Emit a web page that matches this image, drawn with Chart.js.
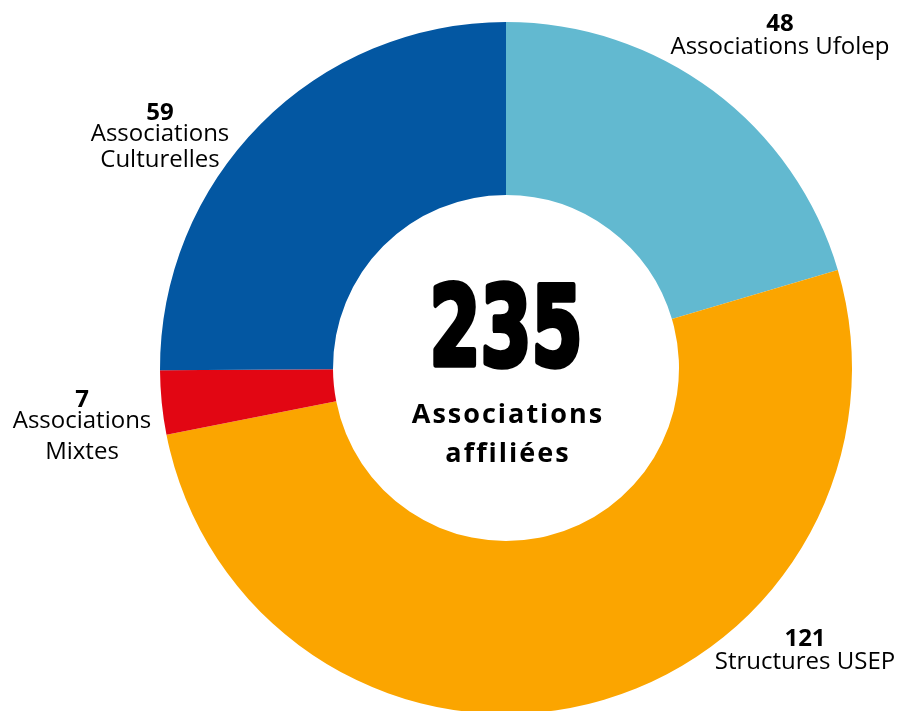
<!DOCTYPE html>
<html>
<head>
<meta charset="utf-8">
<script src="https://cdn.jsdelivr.net/npm/chart.js@4.4.0/dist/chart.umd.min.js"></script>
<style>
    html, body { margin: 0; padding: 0; background: #fff; overflow: hidden; }
    #graficoAssociazioni { display: block; }
</style>
</head>
<body>
<canvas id="graficoAssociazioni" width="897" height="740"></canvas>
<script>
// dati
var categorie = ['Associations Ufolep', 'Structures USEP', 'Associations Mixtes', 'Associations Culturelles'];
var valori = [48, 121, 7, 59];
var colori = ['#62b9d0', '#fba500', '#e20613', '#0357a2'];
var righeEtichette = [['Associations Ufolep'], ['Structures USEP'], ['Associations', 'Mixtes'], ['Associations', 'Culturelles']];
var totaleTesto = ['Associations', 'affiliées'];

// posizione delle etichette rispetto al centro (dx, dy della prima riga, interlinea)
var posEtichette = [
    { dx: 274, dy: -337, righe: [23] },
    { dx: 299, dy: 278, righe: [23] },
    { dx: -424, dy: 39, righe: [21, 31] },
    { dx: -346, dy: -248, righe: [21, 26] }
];

var pluginTesti = {
    id: 'testi',
    afterDraw: function(chart){
        var ctx = chart.ctx;
        var arco = chart.getDatasetMeta(0).data[0];
        var cx = arco.x;
        var cy = arco.y;
        ctx.save();
        ctx.fillStyle = '#000';
        ctx.strokeStyle = '#000';
        ctx.textAlign = 'center';
        ctx.textBaseline = 'alphabetic';

        // etichette
        for (var i = 0; i < valori.length; i++) {
            var p = posEtichette[i];
            var x = cx + p.dx;
            var y = cy + p.dy;
            ctx.font = 'bold 24px "Open Sans", sans-serif';
            ctx.fillText(String(valori[i]), x, y);
            ctx.font = '24px "Open Sans", sans-serif';
            for (var r = 0; r < righeEtichette[i].length; r++) {
                y += p.righe[r];
                ctx.fillText(righeEtichette[i][r], x, y);
            }
        }

        // totale al centro
        var totale = 0;
        for (var j = 0; j < valori.length; j++) {
            totale += valori[j];
        }
        ctx.font = 'bold 120px "Liberation Sans Narrow", "DejaVu Sans Condensed", sans-serif';
        var m = ctx.measureText(String(totale));
        var alt = m.actualBoundingBoxAscent;
        var sx = 153 / m.width;
        var sy = 82 / alt;
        ctx.save();
        ctx.translate(cx, cy - 3);
        ctx.scale(sx, sy);
        ctx.lineJoin = 'round';
        ctx.lineWidth = 4 / sx;
        ctx.fillText(String(totale), 0, 0);
        ctx.strokeText(String(totale), 0, 0);
        ctx.restore();

        ctx.font = 'bold 27px "Open Sans", sans-serif';
        ctx.letterSpacing = '2px';
        ctx.fillText(totaleTesto[0], cx + 2, cy + 55);
        ctx.fillText(totaleTesto[1], cx + 2, cy + 94);
        ctx.restore();
    }
};

var ctx = document.getElementById('graficoAssociazioni');
var chart = new Chart(ctx, {
    type: 'doughnut',
    data: {
        labels: categorie,
        datasets: [{
            data: valori,
            backgroundColor: colori,
            borderWidth: 0,
            hoverOffset: 0
        }]
    },
    options: {
        responsive: false,
        animation: false,
        cutout: '50%',
        layout: {
            padding: { left: 160, right: 45, top: 22, bottom: 26 }
        },
        plugins: {
            legend: { display: false },
            tooltip: { enabled: false }
        }
    },
    plugins: [pluginTesti]
});
</script>
</body>
</html>
